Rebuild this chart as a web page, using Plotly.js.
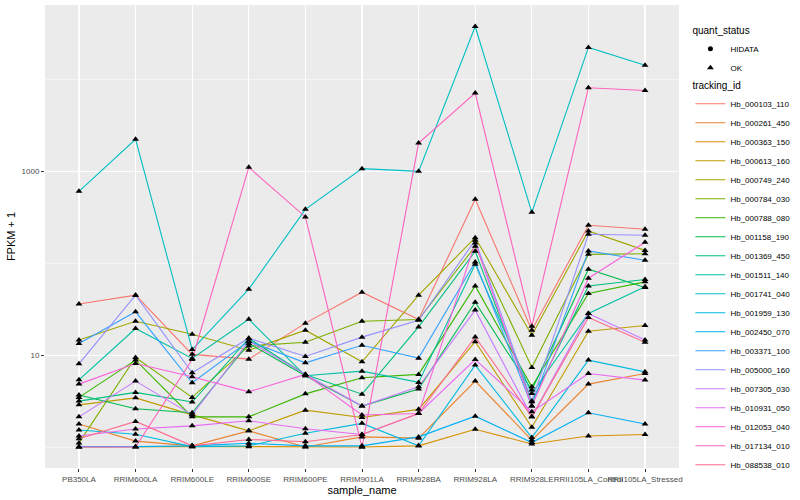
<!DOCTYPE html>
<html>
<head>
<meta charset="utf-8">
<script src="https://cdn.plot.ly/plotly-3.0.1.min.js"></script>
<style>html,body{margin:0;padding:0;background:#fff;}#chart{width:800px;height:500px;}</style>
</head>
<body>
<div id="chart"></div>
<script>
// Categories (x axis)
const sampleNames = ['PB350LA','RRIM600LA','RRIM600LE','RRIM600SE','RRIM600PE','RRIM901LA','RRIM928BA','RRIM928LA','RRIM928LE','RRII105LA_Control','RRII105LA_Stressed'];

// Series names (tracking_id)
const trackingIds = ['Hb_000103_110','Hb_000261_450','Hb_000363_150','Hb_000613_160','Hb_000749_240','Hb_000784_030','Hb_000788_080','Hb_001158_190','Hb_001369_450','Hb_001511_140','Hb_001741_040','Hb_001959_130','Hb_002450_070','Hb_003371_100','Hb_005000_160','Hb_007305_030','Hb_010931_050','Hb_012053_040','Hb_017134_010','Hb_088538_010'];

// FPKM + 1 values, one array per tracking_id
const hb_000103_110 = [36.0, 44.9, 10.2, 9.05, 22.3, 48.4, 24.4, 496, 18.7, 259, 234];
const hb_000261_450 = [1.78, 1.16, 1.03, 1.50, 1.00, 1.29, 1.25, 5.22, 1.19, 4.84, 6.32];
const hb_000363_150 = [1.00, 1.01, 1.01, 1.01, 1.01, 1.00, 1.03, 1.56, 1.08, 1.32, 1.37];
const hb_000613_160 = [2.88, 3.43, 2.24, 1.50, 2.52, 2.10, 2.57, 14.0, 1.64, 18.2, 21.0];
const hb_000749_240 = [14.6, 23.4, 16.9, 11.3, 18.7, 8.46, 44.9, 190, 16.5, 225, 138];
const hb_000784_030 = [1.11, 9.44, 3.47, 12.6, 13.8, 23.4, 24.4, 153, 7.36, 125, 127];
const hb_000788_080 = [3.47, 8.83, 2.13, 2.13, 3.79, 5.67, 6.17, 56.7, 4.52, 46.8, 62.7];
const hb_001158_190 = [3.68, 2.61, 2.36, 13.4, 5.96, 2.79, 4.27, 37.7, 4.17, 86.2, 54.5];
const hb_001369_450 = [3.16, 3.93, 3.09, 15.2, 6.17, 3.76, 20.3, 135, 3.11, 56.7, 66.6];
const hb_001511_140 = [5.39, 19.5, 9.21, 24.6, 5.96, 6.70, 5.05, 97.5, 3.83, 28.4, 55.4];
const hb_001741_040 = [606, 2228, 11.5, 52.2, 386, 1070, 1000, 37700, 358, 22300, 14300];
const hb_001959_130 = [1.53, 1.38, 1.01, 1.03, 1.41, 1.81, 1.03, 7.79, 1.27, 8.83, 6.58];
const hb_002450_070 = [1.01, 1.01, 1.03, 1.10, 1.03, 1.03, 1.29, 2.17, 1.12, 2.36, 1.78];
const hb_003371_100 = [13.4, 29.6, 5.00, 14.2, 8.25, 12.8, 9.28, 103, 2.79, 136, 108];
const hb_005000_160 = [8.04, 44.9, 6.42, 15.3, 9.67, 15.7, 24.0, 178, 3.16, 207, 202];
const hb_007305_030 = [2.13, 5.22, 2.24, 14.2, 6.17, 2.79, 4.52, 30.9, 2.13, 28.4, 14.6];
const hb_010931_050 = [1.32, 1.57, 1.70, 1.93, 1.58, 1.37, 2.32, 8.97, 2.42, 6.32, 5.35];
const hb_012053_040 = [4.84, 8.12, 5.81, 3.99, 6.17, 2.23, 2.32, 166, 2.79, 68.8, 169];
const hb_017134_010 = [1.00, 1.00, 8.97, 1105, 319, 1.00, 2030, 7100, 20.6, 8130, 7590];
const hb_088538_010 = [1.23, 1.90, 1.03, 1.21, 1.14, 1.37, 2.32, 15.8, 2.13, 25.7, 13.8];

const seriesValues = [hb_000103_110, hb_000261_450, hb_000363_150, hb_000613_160, hb_000749_240, hb_000784_030, hb_000788_080, hb_001158_190, hb_001369_450, hb_001511_140, hb_001741_040, hb_001959_130, hb_002450_070, hb_003371_100, hb_005000_160, hb_007305_030, hb_010931_050, hb_012053_040, hb_017134_010, hb_088538_010];

// quant_status legend
const quantStatus = ['HIDATA', 'OK'];

// ggplot2 default hue palette for 20 levels
const colors = ['#F8766D','#EA8331','#D89000','#C09B00','#A3A500','#7CAE00','#39B600','#00BB4E','#00BF7D','#00C1A3','#00BFC4','#00BAE0','#00B0F6','#35A2FF','#9590FF','#C77CFF','#E76BF3','#FA62DB','#FF62BC','#FF6C91'];

const FONT = 'Liberation Sans, Arial, Helvetica, sans-serif';
const traces = [];

// quant_status legend entries (legend 1)
traces.push({type:'scatter', mode:'markers', x:[null], y:[null], name:quantStatus[0], legend:'legend',
  marker:{symbol:'circle', color:'black', size:5}, hoverinfo:'skip'});
traces.push({type:'scatter', mode:'markers', x:[null], y:[null], name:quantStatus[1], legend:'legend',
  marker:{symbol:'triangle-up', color:'black', size:6}, hoverinfo:'skip'});

// lines (legend 2)
trackingIds.forEach((id, i) => {
  traces.push({type:'scatter', mode:'lines', x:sampleNames, y:seriesValues[i], name:id, legend:'legend2',
    line:{color:colors[i], width:1.1}});
});
// triangle points on top
trackingIds.forEach((id, i) => {
  traces.push({type:'scatter', mode:'markers', x:sampleNames, y:seriesValues[i], name:id, showlegend:false,
    marker:{symbol:'triangle-up', color:'black', size:6}});
});

const layout = {
  width:800, height:500,
  margin:{l:45, r:116, t:5, b:32},
  paper_bgcolor:'#ffffff', plot_bgcolor:'#EBEBEB',
  font:{family:FONT, color:'#000'},
  showlegend:true,
  xaxis:{
    type:'category', range:[-0.6, 10.6], categoryorder:'array', categoryarray:sampleNames,
    showgrid:true, gridcolor:'#ffffff', gridwidth:1.1, zeroline:false, showline:false,
    ticks:'outside', ticklen:3, tickcolor:'#333333', tickwidth:1,
    tickfont:{family:FONT, size:8, color:'#4D4D4D'}, tickangle:0,
    title:{text:'sample_name', font:{family:FONT, size:11, color:'#000'}, standoff:2}
  },
  yaxis:{
    type:'log', range:[-0.228, 4.81],
    tickmode:'array', tickvals:[10, 1000], ticktext:['10', '1000'],
    showgrid:true, gridcolor:'#ffffff', gridwidth:1.1, zeroline:false, showline:false,
    ticks:'outside', ticklen:3, tickcolor:'#333333', tickwidth:1,
    tickfont:{family:FONT, size:8, color:'#4D4D4D'},
    minor:{tickmode:'array', tickvals:[1, 100, 10000], showgrid:true, gridcolor:'#ffffff', gridwidth:0.5, ticks:''},
    title:{text:'FPKM + 1', font:{family:FONT, size:11, color:'#000'}, standoff:3}
  },
  legend:{
    x:1.018, xanchor:'left', y:0.965, yanchor:'top',
    bgcolor:'rgba(0,0,0,0)', font:{family:FONT, size:8, color:'#000'},
    title:{text:'quant_status', font:{family:FONT, size:10, color:'#000'}},
    itemwidth:30, tracegroupgap:0
  },
  legend2:{
    x:1.018, xanchor:'left', y:0.846, yanchor:'top',
    bgcolor:'rgba(0,0,0,0)', font:{family:FONT, size:8, color:'#000'},
    title:{text:'tracking_id', font:{family:FONT, size:10, color:'#000'}},
    itemwidth:30, tracegroupgap:0
  }
};

Plotly.newPlot('chart', traces, layout, {displayModeBar:false, staticPlot:true});
</script>
</body>
</html>
